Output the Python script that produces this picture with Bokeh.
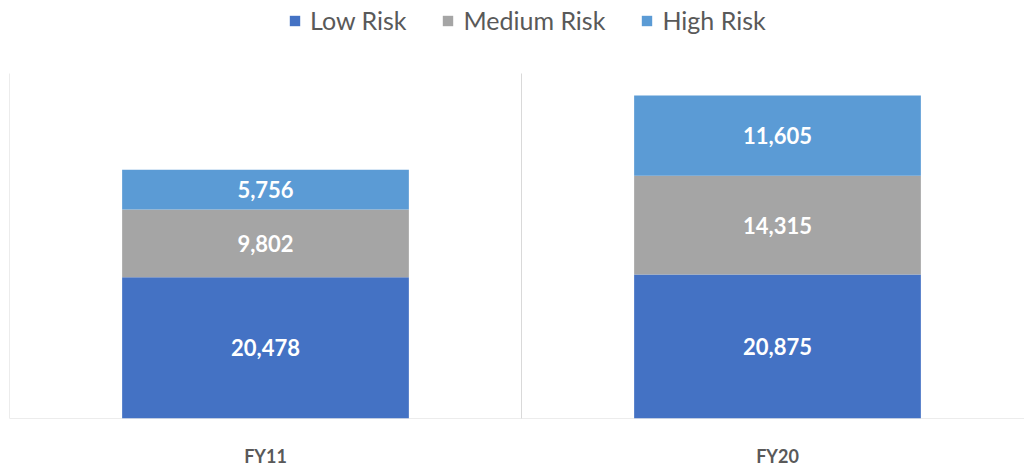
from bokeh.plotting import figure
from bokeh.models import ColumnDataSource, LabelSet, FixedTicker, Range1d, Legend, LegendItem
from bokeh.core.properties import value
from bokeh.embed import file_html
from bokeh.resources import INLINE

# Risk mix by fiscal year
years = ["FY11", "FY20"]
low_risk = [20478, 20875]
medium_risk = [9802, 14315]
high_risk = [5756, 11605]

series = ["Low Risk", "Medium Risk", "High Risk"]
colors = ["#4472C4", "#A5A5A5", "#5B9BD5"]

x = [i + 0.5 for i in range(len(years))]
src = ColumnDataSource(dict(x=x, low=low_risk, med=medium_risk, high=high_risk))

Y_TOP = 50000
frame_h = 418
y_end = Y_TOP * frame_h / 345.0

p = figure(width=1024, height=470, output_backend="svg", toolbar_location=None,
           x_range=Range1d(0, (1024 - 9) / 512.0), y_range=Range1d(0, y_end),
           y_axis_type=None, min_border_left=9, min_border_right=0,
           min_border_top=0, min_border_bottom=470 - frame_h)
p.outline_line_color = None
p.grid.visible = False

# category separators and baseline
for b in range(len(years) + 1):
    p.segment(x0=b, y0=-500, x1=b, y1=Y_TOP, line_color="#D9D9D9", line_width=1)
p.segment(x0=0, y0=0, x1=len(years), y1=0, line_color="#D9D9D9", line_width=1)

rs = p.vbar_stack(["low", "med", "high"], x="x", width=0.56, source=src,
                  color=colors, line_color=None)

# segment value labels
lx, ly, lt = [], [], []
for i in range(len(years)):
    base = 0
    for vals in (low_risk, medium_risk, high_risk):
        v = vals[i]
        lx.append(x[i]); ly.append(base + v / 2.0); lt.append(f"{v:,}")
        base += v
lab_src = ColumnDataSource(dict(x=lx, y=ly, t=lt))
p.add_layout(LabelSet(x="x", y="y", text="t", source=lab_src,
                      text_align="center", text_baseline="middle",
                      text_color="white", text_font=value("Lato"),
                      text_font_style="bold", text_font_size="22px"))

ax = p.xaxis[0]
ax.ticker = FixedTicker(ticks=x)
ax.major_label_overrides = {v: y for v, y in zip(x, years)}
ax.axis_line_color = None
ax.major_tick_line_color = None
ax.minor_tick_line_color = None
ax.major_label_text_font = "Lato"
ax.major_label_text_font_style = "bold"
ax.major_label_text_font_size = "18px"
ax.major_label_text_color = "#595959"
ax.major_label_standoff = 20

legend = Legend(items=[LegendItem(label=s, renderers=[r]) for s, r in zip(series, rs)],
                orientation="horizontal", location=(279, 383),
                border_line_color=None, background_fill_alpha=0,
                label_text_font="Lato", label_text_font_size="25px",
                label_text_color="#595959", glyph_width=13, glyph_height=13,
                label_standoff=9, spacing=35, margin=0, padding=2)
p.add_layout(legend)

open("out.html", "w").write(file_html(p, INLINE))
